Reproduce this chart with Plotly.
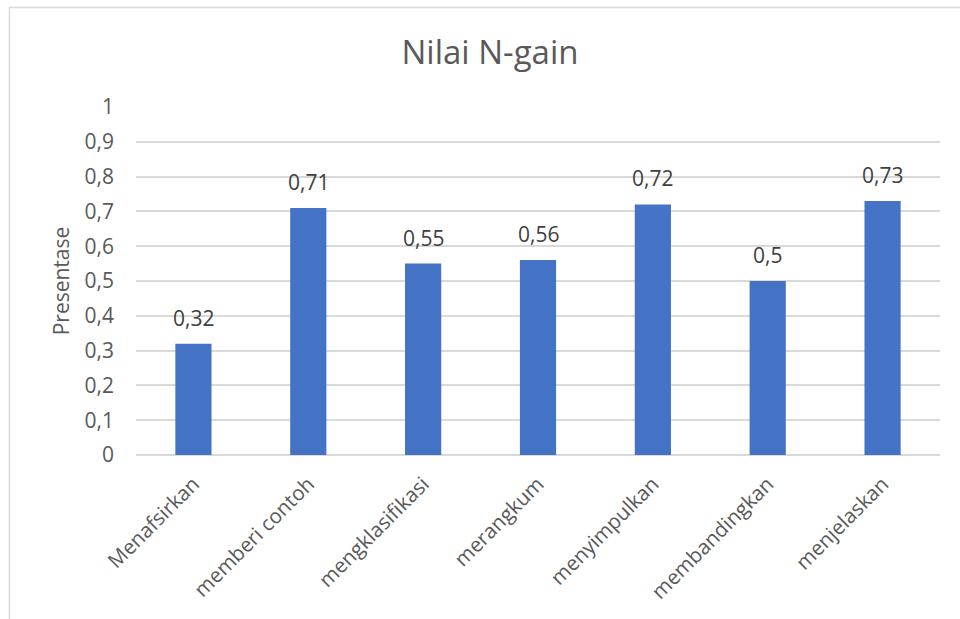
import plotly.graph_objects as go

categories = ["Menafsirkan", "memberi contoh", "mengklasifikasi", "merangkum",
              "menyimpulkan", "membandingkan", "menjelaskan"]
values = [0.32, 0.71, 0.55, 0.56, 0.72, 0.50, 0.73]
labels = [("%g" % v).replace(".", ",") for v in values]

W, H = 960, 619
L, R, T, B = 136, 20, 107, 164
pw = W - L - R
ph = H - T - B
FONT = "Open Sans"

def px(x):
    return (x - L) / pw

def py(y):
    return (H - B - y) / ph

fig = go.Figure()
fig.add_trace(go.Bar(
    x=categories, y=values,
    marker=dict(color="#4472C4", line=dict(width=0)),
    width=0.315,
))

annotations = [dict(x=c, y=v, text=t, xref="x", yref="y", showarrow=False,
                    yanchor="bottom", yshift=10,
                    font=dict(size=21, color="#404040", family=FONT))
               for c, v, t in zip(categories, values, labels)]

fig.update_layout(
    width=W, height=H,
    margin=dict(l=L, r=R, t=T, b=B),
    paper_bgcolor="white", plot_bgcolor="white",
    separators=",.",
    font=dict(family=FONT, color="#595959", size=20),
    title=dict(text="Nilai N-gain", x=px(490), xref="paper", xanchor="center",
               y=1 - 52 / H, yanchor="middle",
               font=dict(size=33, color="#595959", family=FONT)),
    showlegend=False,
    annotations=annotations,
    xaxis=dict(tickangle=-45, showgrid=False, showline=False, ticks="",
               ticklabelstandoff=12,
               tickfont=dict(size=20.5, color="#595959")),
    yaxis=dict(range=[0, 1], dtick=0.1, showgrid=True, gridcolor="#d9d9d9",
               gridwidth=1.5, zeroline=True, zerolinecolor="#d9d9d9", zerolinewidth=1.5,
               showline=False, ticks="", ticklen=0, ticklabelstandoff=21,
               tickfont=dict(size=21, color="#595959"),
               title=dict(text="Presentase", standoff=9,
                          font=dict(size=21, color="#595959"))),
    shapes=[dict(type="rect", xref="paper", yref="paper",
                 x0=px(9.5), x1=px(975), y0=py(7.5), y1=py(640),
                 line=dict(color="#d9d9d9", width=1.5), layer="below")],
)

fig.write_html("out.html")
